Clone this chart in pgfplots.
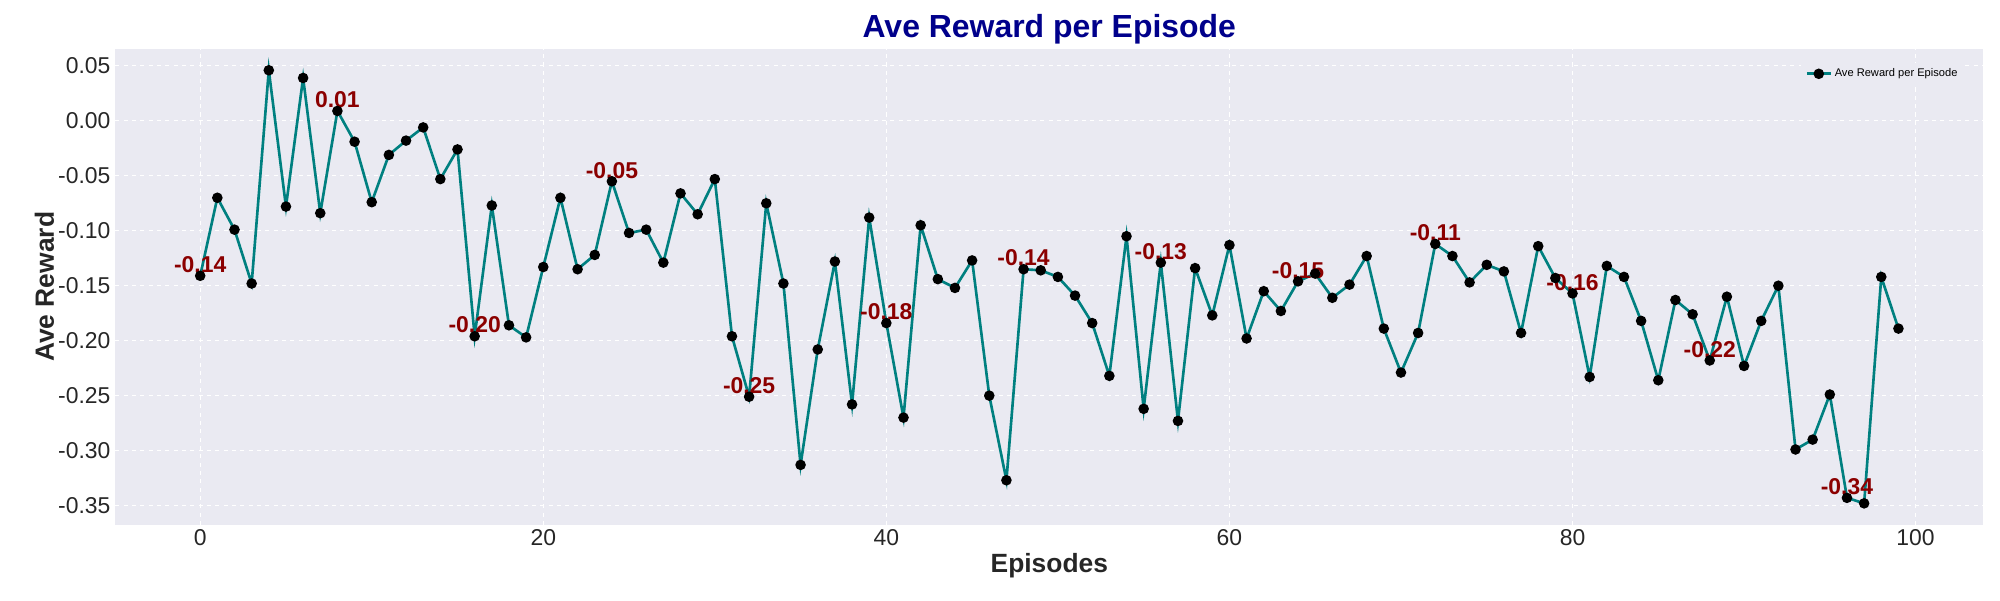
\documentclass[border=0pt]{standalone}
\usepackage{pgfplots}
\pgfplotsset{compat=1.18}
\usepackage{fontspec}
\setmainfont{Liberation Sans}
\definecolor{bg}{HTML}{EAEAF2}
\definecolor{tealc}{HTML}{008080}
\definecolor{txt}{HTML}{262626}
\begin{document}
\begin{tikzpicture}
\path[use as bounding box] (0,0) rectangle (1440pt,432pt);
\begin{axis}[at={(83pt,54pt)}, anchor=south west, scale only axis, width=1345pt, height=343pt,
  xmin=-4.95, xmax=103.95, ymin=-0.3677, ymax=0.0657,
  axis background/.style={fill=bg}, axis line style={draw=none},
  major tick length=0pt,
  xtick={0,20,40,60,80,100}, ytick={-0.35,-0.3,...,0.06},
  yticklabel style={/pgf/number format/fixed,/pgf/number format/fixed zerofill,/pgf/number format/precision=2},
  /pgf/number format/assume math mode=true,
  ticklabel style={font=\fontsize{16.5}{18}\selectfont, text=txt},
  grid=major, grid style={white, dashed, line width=0.6pt},
  title={\textbf{Ave Reward per Episode}}, title style={font=\fontsize{23}{26}\selectfont, text={rgb,255:red,0;green,0;blue,139}, yshift=-6pt},
  xlabel={\textbf{Episodes}}, ylabel={\textbf{Ave Reward}},
  label style={font=\fontsize{19}{22}\selectfont, text=txt},
  ylabel style={yshift=-4pt}, xlabel style={yshift=2pt},
  legend style={draw=none, fill=bg, font=\fontsize{8}{9}\selectfont, at={(0.99,0.97)}, anchor=north east},
  legend cell align=left,
]
\addplot[tealc, line width=1.9pt, mark=*, mark size=2.8pt, mark options={fill=black, draw=black}] coordinates {
(0,-0.141)(1,-0.070)(2,-0.099)(3,-0.148)(4,0.046)(5,-0.078)(6,0.039)(7,-0.084)(8,0.009)(9,-0.019)
(10,-0.074)(11,-0.031)(12,-0.018)(13,-0.006)(14,-0.053)(15,-0.026)(16,-0.196)(17,-0.077)(18,-0.186)(19,-0.197)
(20,-0.133)(21,-0.070)(22,-0.135)(23,-0.122)(24,-0.055)(25,-0.102)(26,-0.099)(27,-0.129)(28,-0.066)(29,-0.085)
(30,-0.053)(31,-0.196)(32,-0.251)(33,-0.075)(34,-0.148)(35,-0.313)(36,-0.208)(37,-0.128)(38,-0.258)(39,-0.088)
(40,-0.184)(41,-0.270)(42,-0.095)(43,-0.144)(44,-0.152)(45,-0.127)(46,-0.250)(47,-0.327)(48,-0.135)(49,-0.136)
(50,-0.142)(51,-0.159)(52,-0.184)(53,-0.232)(54,-0.105)(55,-0.262)(56,-0.129)(57,-0.273)(58,-0.134)(59,-0.177)
(60,-0.113)(61,-0.198)(62,-0.155)(63,-0.173)(64,-0.146)(65,-0.139)(66,-0.161)(67,-0.149)(68,-0.123)(69,-0.189)
(70,-0.229)(71,-0.193)(72,-0.112)(73,-0.123)(74,-0.147)(75,-0.131)(76,-0.137)(77,-0.193)(78,-0.114)(79,-0.143)
(80,-0.157)(81,-0.233)(82,-0.132)(83,-0.142)(84,-0.182)(85,-0.236)(86,-0.163)(87,-0.176)(88,-0.218)(89,-0.160)
(90,-0.223)(91,-0.182)(92,-0.150)(93,-0.299)(94,-0.290)(95,-0.249)(96,-0.343)(97,-0.348)(98,-0.142)(99,-0.189)
};
\addlegendentry{Ave Reward per Episode}
\foreach \x/\y/\t in {0/-0.141/-0.14, 8/0.009/0.01, 16/-0.196/-0.20, 24/-0.055/-0.05, 32/-0.251/-0.25, 40/-0.184/-0.18, 48/-0.135/-0.14, 56/-0.129/-0.13, 64/-0.146/-0.15, 72/-0.112/-0.11, 80/-0.157/-0.16, 88/-0.218/-0.22, 96/-0.343/-0.34}{
  \edef\tmp{\noexpand\node[anchor=south, inner sep=1pt, yshift=1pt, text={rgb,255:red,139;green,0;blue,0}, font=\noexpand\fontsize{16.5}{18}\noexpand\selectfont\noexpand\bfseries] at (axis cs:\x,\y) {\t};}
  \tmp
}
\end{axis}
\end{tikzpicture}
\end{document}
